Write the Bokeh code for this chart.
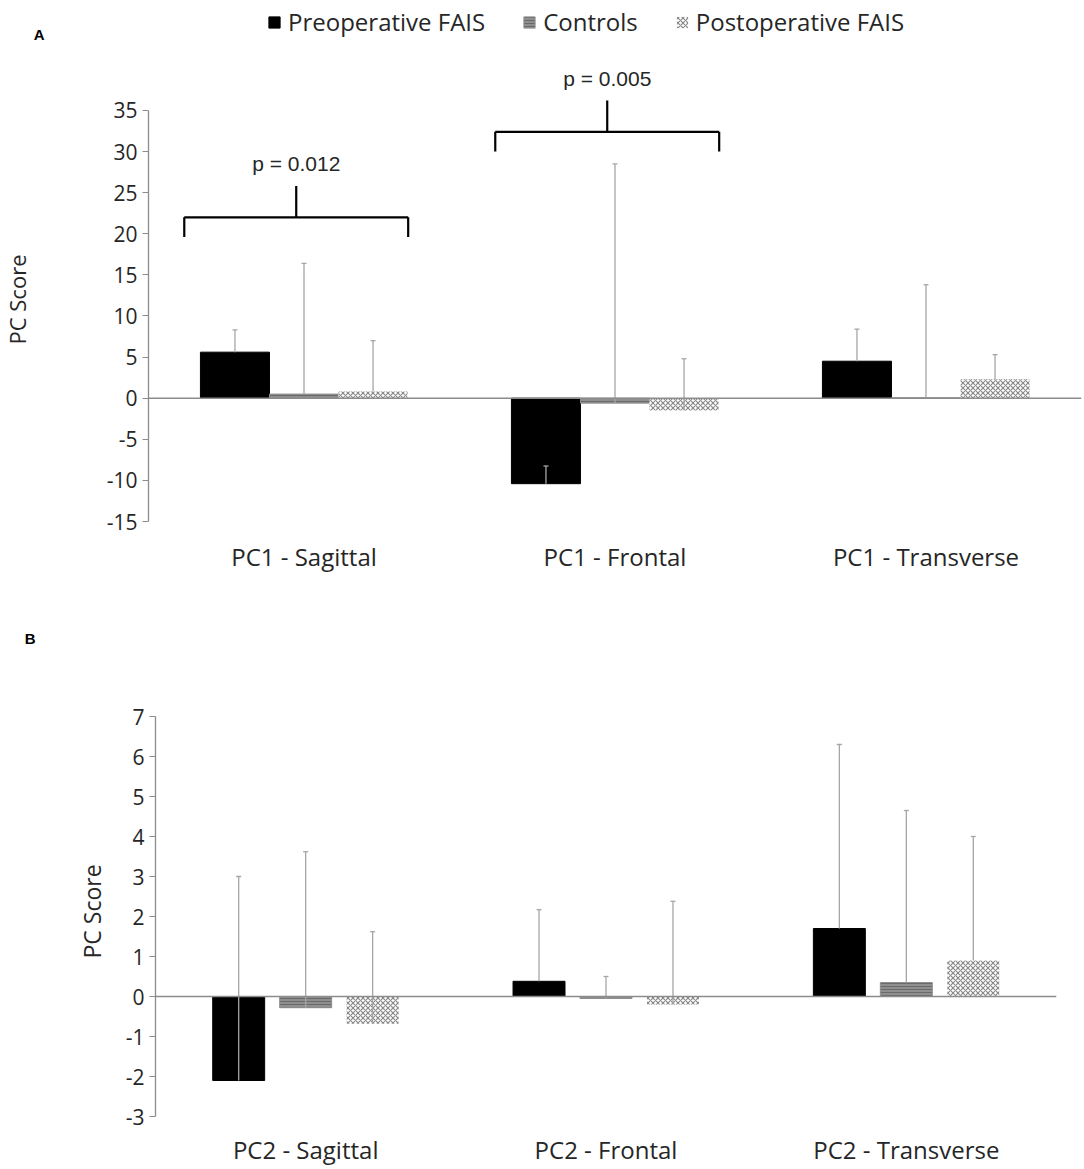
from bokeh.plotting import figure
from bokeh.models import (ColumnDataSource, FactorRange, Range1d, FixedTicker, Span,
                          Legend, LegendItem, LinearAxis, Title)
from bokeh.transform import dodge
from bokeh.layouts import column
from bokeh.core.properties import value
from bokeh.embed import file_html
from bokeh.resources import INLINE

# ---------------- data ----------------
series_names = ["Preoperative FAIS", "Controls", "Postoperative FAIS"]

cats_a = ["PC1 - Sagittal", "PC1 - Frontal", "PC1 - Transverse"]
preop_a = [5.6, -10.4, 4.5]
preop_a_err = [2.7, 2.15, 3.9]
controls_a = [0.5, -0.6, 0.05]
controls_a_err = [15.9, 29.1, 13.75]
postop_a = [0.8, -1.5, 2.3]
postop_a_err = [6.2, 6.3, 3.0]
yticks_a = [-15, -10, -5, 0, 5, 10, 15, 20, 25, 30, 35]

cats_b = ["PC2 - Sagittal", "PC2 - Frontal", "PC2 - Transverse"]
preop_b = [-2.1, 0.38, 1.7]
preop_b_err = [5.1, 1.79, 4.6]
controls_b = [-0.28, -0.05, 0.35]
controls_b_err = [3.9, 0.55, 4.3]
postop_b = [-0.68, -0.2, 0.9]
postop_b_err = [2.3, 2.58, 3.1]
yticks_b = [-3, -2, -1, 0, 1, 2, 3, 4, 5, 6, 7]

sig_cats = ["PC1 - Sagittal", "PC1 - Frontal"]
sig_labels = ["p = 0.012", "p = 0.005"]
sig_level = [22.0, 32.4]

panel_letters = ["A", "B"]
y_axis_title = "PC Score"

# ---------------- styles ----------------
FONT = "Open Sans"
TXT = "#262626"
AXC = "#8c8c8c"
ERRC = "#a6a6a6"
styles = [
    dict(fill_color="black", line_color="black"),
    dict(fill_color="#8f8f8f", line_color="#8f8f8f", hatch_pattern="horizontal_line",
         hatch_color="#6a6a6a", hatch_scale=3, hatch_weight=1),
    dict(fill_color="white", line_color=None, hatch_pattern="diagonal_cross",
         hatch_color="#8a8a8a", hatch_scale=5, hatch_weight=1.2),
]


def make_panel(cats, vals, errs, yticks, y_top, width, height, borders, bar_w, step,
               cat_standoff):
    p = figure(width=width, height=height, x_range=FactorRange(*cats, range_padding=0),
               y_range=Range1d(yticks[0], y_top), output_backend="svg",
               toolbar_location=None, min_border_left=borders[0],
               min_border_right=borders[1], min_border_top=borders[2],
               min_border_bottom=borders[3])
    try:
        p.frame_align = False
    except Exception:
        pass
    p.outline_line_color = None
    p.xgrid.visible = False
    p.ygrid.visible = False
    p.background_fill_color = "white"
    p.border_fill_color = "white"

    renderers = []
    offsets = [-step, 0.0, step]
    for k in range(3):
        src = ColumnDataSource(dict(cat=cats, val=vals[k]))
        xd = dodge("cat", offsets[k], range=p.x_range)
        r = p.vbar(x=xd, top="val", bottom=0, width=bar_w, source=src, **styles[k])
        renderers.append(r)
    for k in range(3):
        tops = [v + e for v, e in zip(vals[k], errs[k])]
        src = ColumnDataSource(dict(cat=cats, val=vals[k], top=tops))
        xd = dodge("cat", offsets[k], range=p.x_range)
        p.segment(x0=xd, y0="val", x1=xd, y1="top", source=src,
                  line_color=ERRC, line_width=1.3)
        p.scatter(x=xd, y="top", source=src, marker="dash", size=5,
                  line_color=ERRC, line_width=1.3)

    p.add_layout(Span(location=0, dimension="width", line_color=AXC, line_width=1.5))

    ya = p.yaxis[0]
    ya.ticker = FixedTicker(ticks=yticks)
    ya.major_label_overrides = {t: str(t) for t in yticks}
    ya.bounds = (yticks[0], yticks[-1])
    ya.axis_line_color = AXC
    ya.axis_line_width = 1.3
    ya.major_tick_line_color = AXC
    ya.major_tick_out = 6
    ya.major_tick_in = 0
    ya.minor_tick_line_color = None
    ya.major_label_text_font = FONT
    ya.major_label_text_font_size = "21px"
    ya.major_label_text_color = TXT
    ya.major_label_standoff = 5

    xa = p.xaxis[0]
    xa.axis_line_color = None
    xa.major_tick_line_color = None
    xa.major_tick_out = 0
    xa.minor_tick_line_color = None
    xa.major_label_text_font = FONT
    xa.major_label_text_font_size = "24px"
    xa.major_label_text_color = TXT
    xa.major_label_standoff = cat_standoff
    return p, renderers


def letter_axis(p, letter, yval, standoff):
    ax = LinearAxis(ticker=FixedTicker(ticks=[yval]),
                    major_label_overrides={yval: letter},
                    axis_line_color=None, major_tick_line_color=None,
                    minor_tick_line_color=None, major_tick_out=0, major_tick_in=0,
                    major_label_standoff=standoff,
                    major_label_text_font="Liberation Sans",
                    major_label_text_font_style="bold",
                    major_label_text_font_size="15px",
                    major_label_text_color="black")
    p.add_layout(ax, "left")


def side_title(p, offset, standoff, size):
    t = Title(text=y_axis_title, align="left", offset=offset, standoff=standoff,
              text_font=FONT, text_font_size=size, text_font_style="normal",
              text_color=TXT)
    p.add_layout(t, "left")
    return t


# ---------------- panel A ----------------
pA, rA = make_panel(cats_a, [preop_a, controls_a, postop_a],
                    [preop_a_err, controls_a_err, postop_a_err],
                    yticks_a, 48.38, 1084, 600, (148, 3, 0, 79), 0.222, 0.222, 18)

# significance brackets
lvl = sig_level
bsrc = ColumnDataSource(dict(cat=sig_cats, y=lvl,
                             leg=[v - 2.4 for v in lvl],
                             stem=[v + 3.8 for v in lvl],
                             ty=[v + 6.5 for v in lvl],
                             label=sig_labels))
xl = dodge("cat", -0.385, range=pA.x_range)
xr = dodge("cat", 0.335, range=pA.x_range)
xs = dodge("cat", -0.025, range=pA.x_range)
pA.segment(x0=xl, y0="y", x1=xr, y1="y", source=bsrc, line_color="black", line_width=2.2)
pA.segment(x0=xl, y0="y", x1=xl, y1="leg", source=bsrc, line_color="black", line_width=2.2)
pA.segment(x0=xr, y0="y", x1=xr, y1="leg", source=bsrc, line_color="black", line_width=2.2)
pA.segment(x0=xs, y0="y", x1=xs, y1="stem", source=bsrc, line_color="black", line_width=2.2)
pA.text(x=xs, y="ty", text="label", source=bsrc, text_align="center",
        text_baseline="middle", text_font=value("Liberation Sans"),
        text_font_size="21px", text_color=TXT)

legend = Legend(items=[LegendItem(label=series_names[i], renderers=[rA[i]]) for i in range(3)],
                orientation="horizontal", location=(119, 483), padding=0, margin=0,
                spacing=37, label_standoff=7, glyph_width=14, glyph_height=14,
                label_text_font=FONT, label_text_font_size="24px",
                label_text_color=TXT, border_line_color=None,
                background_fill_alpha=0)
pA.add_layout(legend, "center")
letter_axis(pA, panel_letters[0], 44.25, 59)
side_title(pA, 177, -2, "22px")

# ---------------- panel B ----------------
pB, rB = make_panel(cats_b, [preop_b, controls_b, postop_b],
                    [preop_b_err, controls_b_err, postop_b_err],
                    yticks_b, 9.15, 1084, 568, (155, 28, 30, 52), 0.173, 0.223, 16)
side_title(pB, 158, 30, "23px")
letter_axis(pB, panel_letters[1], 8.95, 23)

layout = column(pA, pB, spacing=0)
open("out.html", "w").write(file_html(layout, INLINE))
